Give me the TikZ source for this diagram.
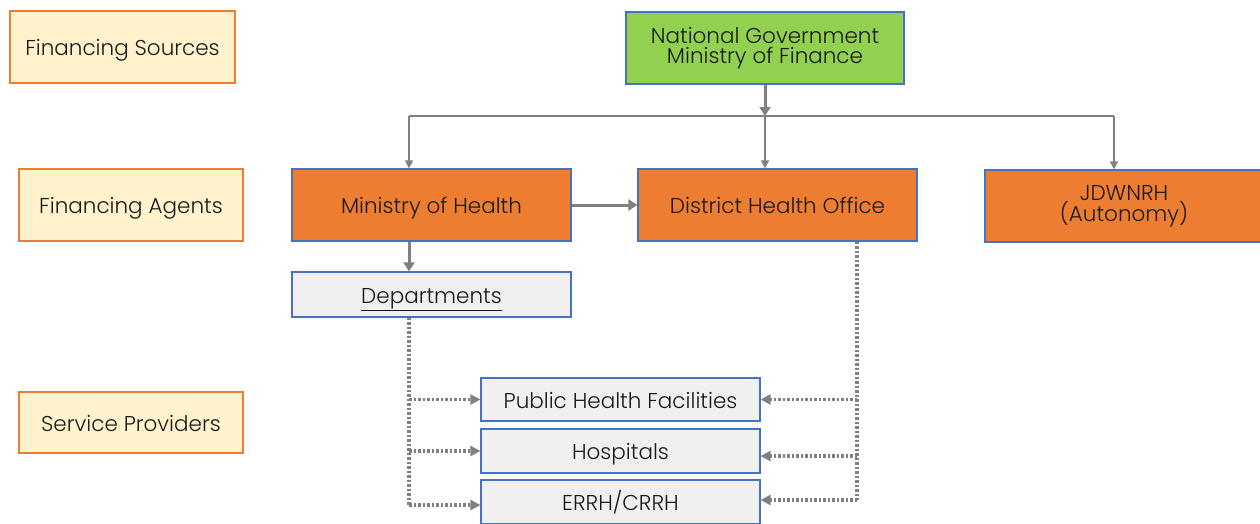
\documentclass[tikz,border=0pt]{standalone}
\usepackage{fontspec}
\setmainfont{Poppins}[UprightFont=* Light]
\usetikzlibrary{arrows.meta,calc}
\definecolor{orfill}{HTML}{ED7D31}
\definecolor{bluebd}{HTML}{4472C4}
\definecolor{grfill}{HTML}{92D050}
\definecolor{lbfill}{HTML}{FFF2CC}
\definecolor{gyfill}{HTML}{F0F0F0}
\definecolor{conn}{HTML}{808080}
\definecolor{txt}{HTML}{1A1A1A}
\tikzset{
  box/.style={draw, line width=1.2pt, inner sep=0pt, align=center, text=txt,
    font=\fontsize{21.5}{20}\selectfont},
  one/.style={text height=19pt, text depth=2pt},
  lbox/.style={box, one, fill=lbfill, draw=orfill, minimum width=224pt},
  obox/.style={box, fill=orfill, draw=bluebd, minimum width=279pt, minimum height=72pt},
  gbox/.style={box, one, fill=gyfill, draw=bluebd, minimum width=279pt},
  thinc/.style={draw=conn, line width=1.5pt, -{Triangle[length=8pt,width=8pt]}},
  thickc/.style={draw=conn, line width=3pt, -{Triangle[length=9pt,width=11pt]}},
  dotc/.style={draw=conn, line width=3.5pt, dash pattern=on 2.5pt off 2pt},
  dota/.style={dotc, -{Triangle[length=10pt,width=10pt]}},
}
\begin{document}
\begin{tikzpicture}[x=1pt,y=-1pt]
\useasboundingbox (0,0) rectangle (1260,523);
% left labels
\node[lbox, minimum height=72pt, minimum width=225pt] (fs) at (122.5,47) {Financing Sources};
\node[lbox, minimum height=72pt] (fa) at (131,205) {Financing Agents};
\node[lbox, minimum height=61pt] (sp) at (131,422.5) {Service Providers};
% main boxes
\node[box, fill=grfill, draw=bluebd, minimum width=278pt, minimum height=72pt] (ng) at (765,48) {National Government\\Ministry of Finance};
\node[obox, one] (moh) at (431.5,205) {Ministry of Health};
\node[obox, one] (dho) at (777.5,205) {District Health Office};
\node[obox, minimum width=278pt] (jd) at (1124,206) {JDWNRH\\(Autonomy)};
\node[gbox, minimum height=45pt] (dep) at (431.5,294.5) {\underline{Departments}};
\node[gbox, minimum height=43pt] (phf) at (620.5,399.5) {Public Health Facilities};
\node[gbox, minimum height=44pt] (hos) at (620.5,451) {Hospitals};
\node[gbox, minimum height=44pt] (erh) at (620.5,502) {ERRH/CRRH};
% top connectors
\coordinate (j) at (765,116);
\coordinate (jl) at (409,116);
\coordinate (jr) at (1114,116);
\draw[thickc] (ng.south) -- (j);
\draw[draw=conn, line width=1.5pt] (jl) -- (jr);
\draw[thinc] (jl) -- (jl |- moh.north);
\draw[thinc] (j) -- (j |- dho.north);
\draw[thinc] (jr) -- (jr |- jd.north);
\draw[thickc] (moh.east) -- (dho.west);
\draw[thickc] (jl |- moh.south) -- (jl |- dep.north);
% dotted left
\coordinate (dl) at (409,505);
\draw[dotc] (jl |- dep.south) -- (dl);
\draw[dota] (dl) -- (dl -| erh.west);
\draw[dota] (jl |- phf.west) -- (phf.west);
\draw[dota] (jl |- hos.west) -- (hos.west);
% dotted right
\coordinate (dr) at (857,241);
\coordinate (drb) at (857,500);
\draw[dotc] (dr |- dho.south) -- (drb);
\draw[dota] (drb) -- (drb -| erh.east);
\draw[dota] (dr |- phf.east) -- (phf.east);
\draw[dota] ($(dr |- hos.east)+(0,5)$) -- ($(hos.east)+(0,5)$);
\end{tikzpicture}
\end{document}
